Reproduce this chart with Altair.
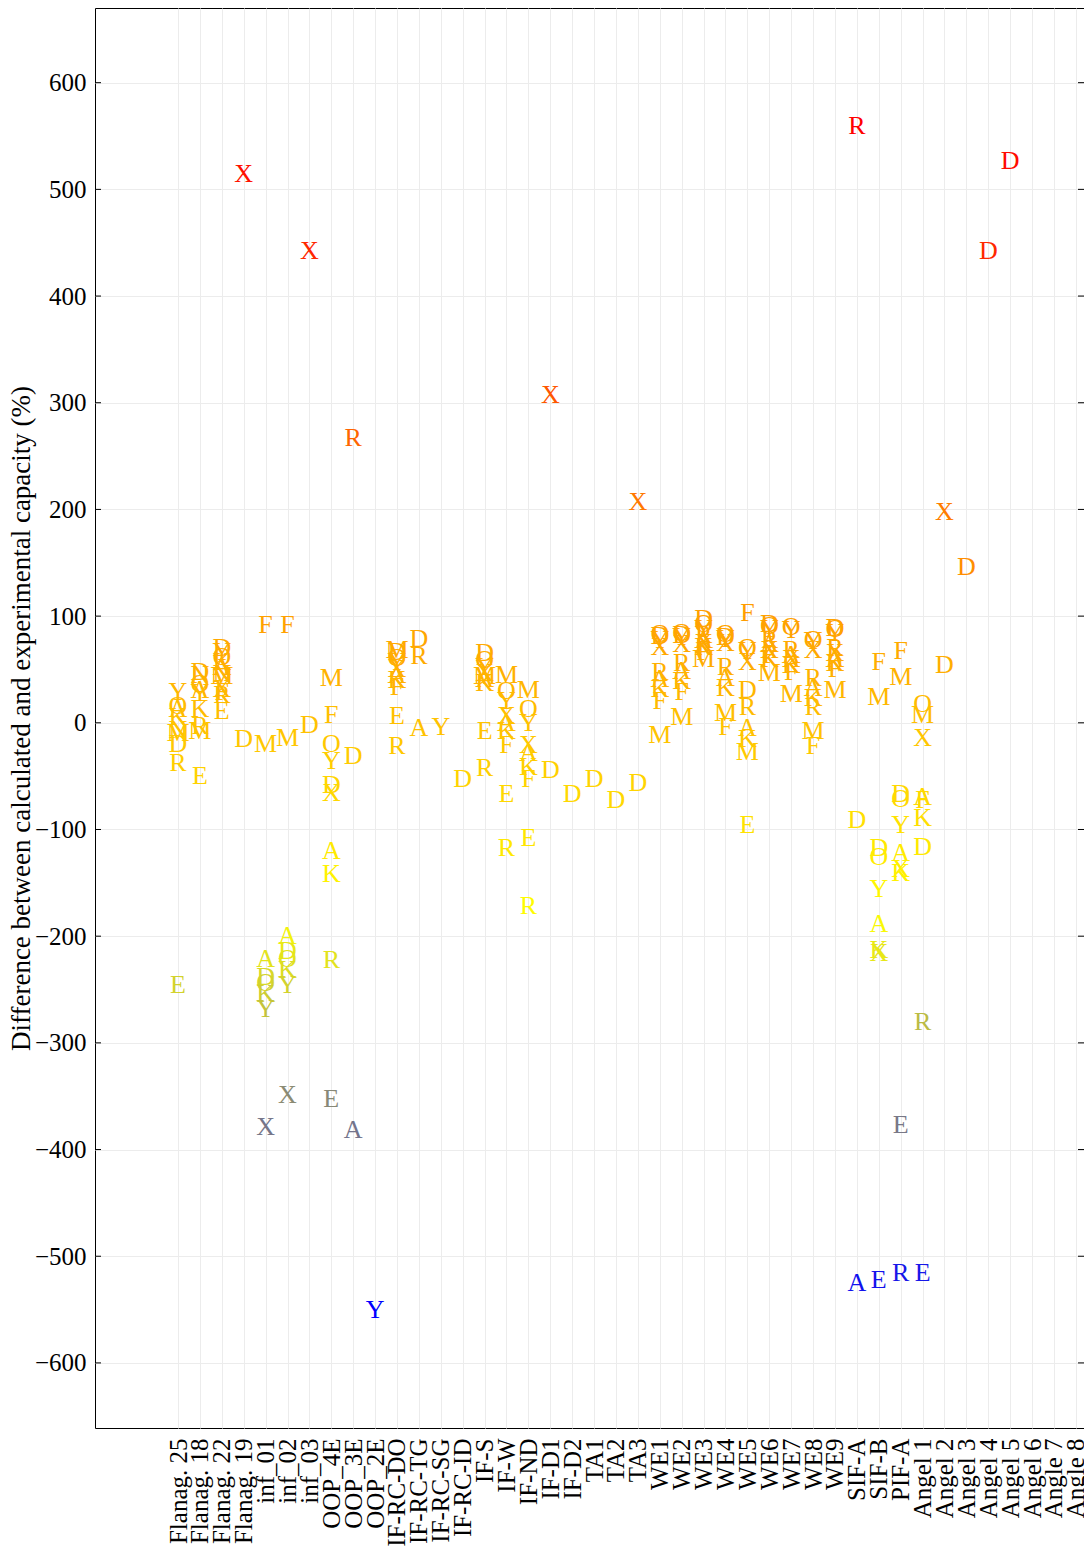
import json
import altair as alt
import pandas as pd

categories = ["Flanag. 25", "Flanag. 18", "Flanag. 22", "Flanag. 19", "inf_01", "inf_02", "inf_03",
              "OOP_4E", "OOP_3E", "OOP_2E", "IF-RC-DO", "IF-RC-TG", "IF-RC-SG", "IF-RC-ID",
              "IF-S", "IF-W", "IF-ND", "IF-D1", "IF-D2", "TA1", "TA2", "TA3",
              "WE1", "WE2", "WE3", "WE4", "WE5", "WE6", "WE7", "WE8", "WE9",
              "SIF-A", "SIF-B", "PIF-A", "Angel 1", "Angel 2", "Angel 3", "Angel 4",
              "Angel 5", "Angel 6", "Angle 7", "Angle 8"]
y_ticks = [-600, -500, -400, -300, -200, -100, 0, 100, 200, 300, 400, 500, 600]

# (letter, value) for every plotted letter, one list per category
flanag25 = [("Y", 29), ("O", 16), ("A", 13), ("K", 5), ("N", -7), ("M", -10), ("D", -20), ("R", -38), ("E", -246)]
flanag18 = [("D", 48), ("N", 45), ("O", 36), ("A", 31), ("Y", 28), ("K", 13), ("R", -3), ("M", -8), ("E", -50)]
flanag22 = [("D", 70), ("Y", 66), ("O", 62), ("K", 57), ("A", 52), ("N", 46), ("M", 44), ("X", 32), ("F", 29), ("R", 26), ("E", 11)]
flanag19 = [("X", 514), ("D", -15)]
inf01 = [("F", 92), ("M", -20), ("A", -221), ("D", -238), ("O", -244), ("K", -254), ("Y", -268), ("X", -379)]
inf02 = [("F", 92), ("M", -14), ("A", -200), ("D", -214), ("O", -221), ("K", -232), ("Y", -246), ("X", -349)]
inf03 = [("X", 442), ("D", -2)]
oop4e = [("M", 42), ("F", 7), ("O", -20), ("Y", -36), ("D", -58), ("X", -66), ("A", -120), ("K", -142), ("R", -222), ("E", -353)]
oop3e = [("R", 267), ("D", -31), ("A", -382)]
oop2e = [("Y", -550)]
ifrcdo = [("M", 68), ("D", 66), ("O", 61), ("Y", 57), ("X", 50), ("A", 45), ("K", 40), ("F", 34), ("E", 6), ("R", -22)]
ifrctg = [("D", 79), ("R", 63), ("A", -5)]
ifrcsg = [("Y", -4)]
ifrcid = [("D", -53)]
ifs = [("D", 65), ("O", 59), ("Y", 52), ("X", 47), ("M", 44), ("A", 41), ("K", 37), ("E", -8), ("R", -42)]
ifw = [("M", 45), ("O", 30), ("Y", 20), ("X", 6), ("A", 0), ("K", -8), ("F", -21), ("E", -67), ("R", -117)]
ifnd = [("M", 31), ("O", 13), ("Y", 0), ("X", -21), ("A", -28), ("K", -41), ("F", -53), ("E", -108), ("R", -172)]
ifd1 = [("X", 307), ("D", -44)]
ifd2 = [("D", -67)]
ta1 = [("D", -53)]
ta2 = [("D", -72)]
ta3 = [("X", 207), ("D", -56)]
we1 = [("O", 83), ("D", 81), ("Y", 78), ("X", 71), ("R", 48), ("A", 41), ("K", 32), ("F", 20), ("M", -11)]
we2 = [("O", 84), ("D", 82), ("Y", 80), ("X", 74), ("R", 56), ("A", 49), ("K", 39), ("F", 29), ("M", 5)]
we3 = [("D", 97), ("O", 93), ("Y", 88), ("R", 82), ("A", 78), ("X", 75), ("K", 71), ("F", 66), ("M", 60)]
we4 = [("O", 83), ("D", 80), ("Y", 79), ("X", 75), ("R", 52), ("A", 42), ("K", 33), ("M", 9), ("F", -4)]
we5 = [("F", 103), ("O", 70), ("Y", 67), ("X", 57), ("D", 31), ("R", 15), ("A", -5), ("K", -15), ("M", -27), ("E", -96)]
we6 = [("D", 93), ("O", 91), ("Y", 88), ("R", 78), ("A", 74), ("X", 68), ("F", 64), ("K", 60), ("M", 47)]
we7 = [("O", 90), ("Y", 87), ("R", 68), ("A", 64), ("X", 60), ("K", 54), ("F", 48), ("M", 27)]
we8 = [("O", 78), ("Y", 77), ("X", 68), ("R", 42), ("A", 33), ("K", 23), ("R", 15), ("M", -8), ("F", -22)]
we9 = [("D", 89), ("O", 88), ("Y", 84), ("R", 70), ("X", 65), ("A", 60), ("K", 56), ("F", 50), ("M", 31)]
sifa = [("R", 559), ("D", -91), ("A", -525)]
sifb = [("F", 57), ("M", 24), ("D", -117), ("O", -126), ("Y", -156), ("A", -189), ("K", -213), ("X", -216), ("E", -522)]
pifa = [("F", 67), ("M", 43), ("D", -67), ("O", -71), ("Y", -96), ("A", -122), ("X", -137), ("K", -141), ("E", -377), ("R", -516)]
angel1 = [("O", 18), ("M", 7), ("X", -14), ("A", -70), ("F", -72), ("K", -89), ("D", -116), ("R", -280), ("E", -516)]
angel2 = [("X", 198), ("D", 54)]
angel3 = [("D", 146)]
angel4 = [("D", 442)]
angel5 = [("D", 527)]

groups = [flanag25, flanag18, flanag22, flanag19, inf01, inf02, inf03, oop4e, oop3e, oop2e,
          ifrcdo, ifrctg, ifrcsg, ifrcid, ifs, ifw, ifnd, ifd1, ifd2, ta1, ta2, ta3,
          we1, we2, we3, we4, we5, we6, we7, we8, we9, sifa, sifb, pifa,
          angel1, angel2, angel3, angel4, angel5]

rows = []
for i, g in enumerate(groups):
    for letter, val in g:
        rows.append({"idx": i, "letter": letter, "value": val})
df = pd.DataFrame(rows)
ticks_df = pd.DataFrame({"value": y_ticks})

FONT = "Liberation Serif"
W, H = 989, 1420
label_expr = json.dumps(categories) + "[datum.value]"
y_scale = alt.Scale(domain=[-661, 670], nice=False, zero=False)

letters = alt.Chart(df).mark_text(font=FONT, fontSize=26, align="center", baseline="middle").encode(
    x=alt.X("idx:Q",
            scale=alt.Scale(domain=[-3.79, 41.37], nice=False, zero=False),
            axis=alt.Axis(values=list(range(len(categories))), labelExpr=label_expr,
                          labelAngle=270, labelAlign="right", labelBaseline="middle",
                          labelFont=FONT, labelFontSize=25, labelColor="black",
                          labelOverlap=False, labelPadding=10, title=None,
                          grid=True, gridColor="#ececec", ticks=False, domain=False)),
    y=alt.Y("value:Q", scale=y_scale,
            axis=alt.Axis(values=y_ticks,
                          title="Difference between calculated and experimental capacity (%)",
                          titleFont=FONT, titleFontSize=27, titleFontWeight="normal",
                          titleColor="black", titleX=-60, titleY=710,
                          titleAngle=270, titleBaseline="bottom", titleAlign="center",
                          labelFont=FONT, labelFontSize=25, labelColor="black", labelPadding=9,
                          grid=True, gridColor="#ececec", ticks=False, domain=False)),
    text="letter:N",
    color=alt.Color("value:Q",
                    scale=alt.Scale(domain=[-550, -181, 188, 559],
                                    range=["#0000ff", "#ffff00", "#ff8000", "#ff0000"],
                                    interpolate="rgb"),
                    legend=None),
)

left_ticks = alt.Chart(ticks_df).mark_rule(color="black", strokeWidth=1).encode(
    y=alt.Y("value:Q"), x=alt.value(0), x2=alt.value(6))
right_ticks = alt.Chart(ticks_df).mark_rule(color="black", strokeWidth=1).encode(
    y=alt.Y("value:Q"), x=alt.value(W - 6), x2=alt.value(W))

chart = alt.layer(letters, left_ticks, right_ticks).properties(
    width=W, height=H,
    padding={"left": 87, "top": 0, "right": 0, "bottom": 122},
    autosize=alt.AutoSizeParams(type="none"),
).configure_view(stroke="black", strokeWidth=1)

chart.save("out.html", embed_options={"renderer": "svg", "actions": False})
